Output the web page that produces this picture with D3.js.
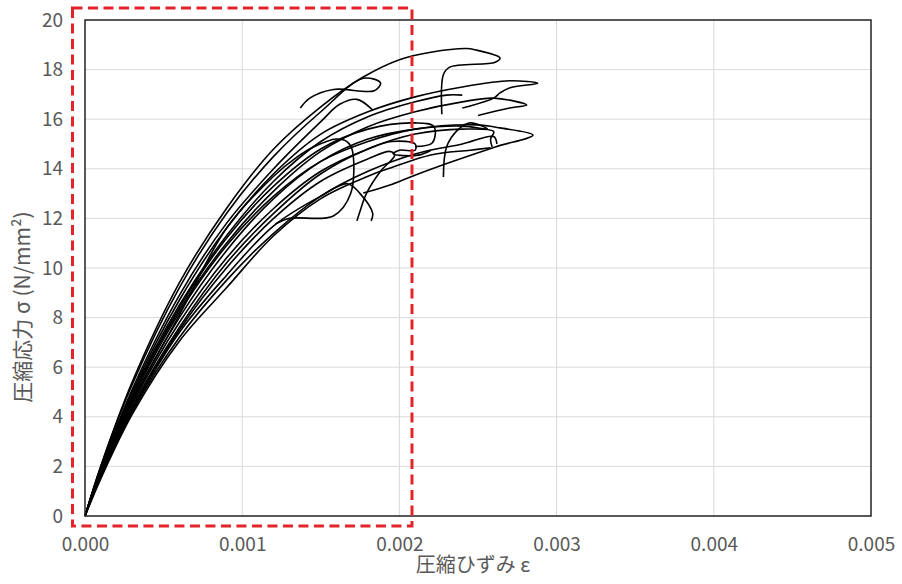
<!DOCTYPE html>
<html><head><meta charset="utf-8">
<script src="https://cdn.jsdelivr.net/npm/d3@7"></script>
<style>
html,body{margin:0;padding:0;background:#fff;}
svg{display:block;}
</style></head>
<body>
<svg id="chart" width="902" height="584"></svg>
<script>
// ---- data ----
const xTicks = [0, 0.001, 0.002, 0.003, 0.004, 0.005];
const xTickLabels = ["0.000", "0.001", "0.002", "0.003", "0.004", "0.005"];
const yTicks = [0, 2, 4, 6, 8, 10, 12, 14, 16, 18, 20];
const yTickLabels = ["0", "2", "4", "6", "8", "10", "12", "14", "16", "18", "20"];
const xTitle = "圧縮ひずみ ε";
const yTitle = "圧縮応力 σ (N/mm²)";
const highlightRange = [0, 0.00208]; // strain range of the dashed box

// each specimen: [strain, stress] pairs
const specimen1 = [[0,0],[0.0001,2.0],[0.0003,5.4],[0.0006,9.4],[0.0009,12.4],[0.0012,14.8],[0.0015,16.5],[0.00177,17.7],[0.002,18.4],[0.0022,18.7],[0.00243,18.85],[0.00248,18.8],[0.00264,18.47],[0.00261,18.3],[0.00232,18.1],[0.00228,17.8],[0.00227,16.2]];
const specimen2 = [[0,0],[0.0001,2.0],[0.0003,5.3],[0.0006,9.2],[0.0009,12.2],[0.0012,14.5],[0.0015,16.3],[0.00177,17.65],[0.00188,17.46],[0.00184,17.15],[0.00158,17.2],[0.00143,16.85],[0.00137,16.45]];
const specimen3 = [[0,0],[0.0001,1.9],[0.0003,5.1],[0.0006,8.9],[0.0009,11.8],[0.0012,14.0],[0.0015,15.9],[0.00162,16.6],[0.00173,16.8],[0.00183,16.37]];
const specimen4 = [[0,0],[0.0001,1.9],[0.0003,5.0],[0.0006,8.7],[0.0009,11.6],[0.0012,13.8],[0.0015,15.4],[0.0018,16.3],[0.0021,16.9],[0.0024,17.3],[0.0027,17.55],[0.00288,17.45],[0.0027,17.26],[0.00264,17.06],[0.0026,16.85],[0.00243,16.5],[0.0024,16.45]];
const specimen5 = [[0,0],[0.0001,1.85],[0.0003,4.9],[0.0006,8.5],[0.0009,11.3],[0.0012,13.5],[0.0015,15.1],[0.0018,16.1],[0.0021,16.7],[0.0023,16.97],[0.0024,16.97]];
const specimen6 = [[0,0],[0.0001,1.8],[0.0003,4.8],[0.0006,8.3],[0.0009,11.0],[0.0012,13.1],[0.0015,14.7],[0.0018,15.7],[0.0021,16.3],[0.0024,16.7],[0.0026,16.85],[0.00281,16.57],[0.0027,16.45],[0.0025,16.15]];
const specimen7 = [[0,0],[0.0001,1.8],[0.0003,4.7],[0.0006,8.2],[0.0009,10.9],[0.0012,12.9],[0.0015,14.3],[0.0018,15.1],[0.0021,15.6],[0.00249,15.77],[0.00264,15.65],[0.00285,15.36],[0.00261,14.88],[0.00231,14.23],[0.00207,13.67],[0.00194,13.35],[0.00177,13.02]];
const specimen8 = [[0,0],[0.0001,1.75],[0.0003,4.6],[0.0006,8.0],[0.0009,10.7],[0.0012,12.8],[0.0015,14.3],[0.0018,15.2],[0.0021,15.6],[0.0024,15.72],[0.00256,15.6],[0.00245,15.85],[0.00237,15.56],[0.0023,14.88],[0.00228,13.67]];
const specimen9 = [[0,0],[0.0001,1.8],[0.0003,4.8],[0.0006,8.4],[0.0009,11.2],[0.0012,13.3],[0.0015,14.8],[0.0018,15.6],[0.0021,15.85],[0.00222,15.7],[0.00221,15.05],[0.0021,14.9]];
const specimen10 = [[0,0],[0.0001,1.7],[0.0003,4.5],[0.0006,7.8],[0.0009,10.4],[0.0012,12.4],[0.0015,13.9],[0.0018,14.8],[0.00195,15.1],[0.0021,15.0],[0.0021,14.75],[0.002,14.75],[0.00196,14.6],[0.00212,14.55],[0.0022,14.75]];
const specimen11 = [[0,0],[0.0001,1.7],[0.0003,4.4],[0.0006,7.6],[0.0009,10.2],[0.0012,12.2],[0.0015,13.8],[0.0018,14.8],[0.0021,15.4],[0.0024,15.6],[0.0026,15.5],[0.00258,15.2],[0.00259,14.88]];
const specimen12 = [[0,0],[0.0001,1.75],[0.0003,4.6],[0.0006,8.1],[0.0009,11.6],[0.0012,13.7],[0.00135,14.48],[0.00145,14.87],[0.0016,15.2],[0.00167,15.08],[0.0017,14.76],[0.00169,13.0],[0.00158,12.1],[0.0013,12.0],[0.00121,11.77]];
const specimen13 = [[0,0],[0.0001,1.65],[0.0003,4.3],[0.0006,7.5],[0.0009,10.0],[0.0012,12.0],[0.0015,13.5],[0.0018,14.4],[0.00194,14.7],[0.00197,14.55],[0.00188,13.9],[0.00179,13.0],[0.00175,12.3],[0.00173,11.9]];
const specimen14 = [[0,0],[0.0001,1.6],[0.0003,4.25],[0.0006,7.4],[0.0009,9.7],[0.0012,11.7],[0.0015,12.9],[0.00167,13.4],[0.00175,13.0],[0.00183,12.2],[0.00182,11.9]];
const specimen15 = [[0,0],[0.0001,1.5],[0.0003,4.1],[0.0006,7.05],[0.0009,9.2],[0.0012,11.3],[0.0015,12.8],[0.0018,13.7],[0.00196,14.07],[0.0022,14.56],[0.00245,14.75],[0.00258,14.85]];
const specimen16 = [[0,0],[0.0001,1.55],[0.0003,4.2],[0.0006,7.2],[0.0009,9.5],[0.0012,11.4],[0.0015,12.9],[0.0018,13.9],[0.0021,14.6],[0.0024,15.0],[0.0026,15.3],[0.00262,15.0]];

const specimens = [specimen1,specimen2,specimen3,specimen4,specimen5,specimen6,specimen7,specimen8,
  specimen9,specimen10,specimen11,specimen12,specimen13,specimen14,specimen15,specimen16];

// ---- drawing ----
const svg = d3.select("#chart");
const m = {left: 85, right: 902 - 871, top: 20, bottom: 584 - 516};
const W = 902, H = 584;
const x = d3.scaleLinear().domain([0, 0.005]).range([m.left, W - m.right]);
const y = d3.scaleLinear().domain([0, 20]).range([H - m.bottom, m.top]);

const font = "'Noto Sans CJK JP','Noto Sans',sans-serif";
const textColor = "#595959";

// gridlines
svg.append("g").selectAll("line.gx").data(xTicks.slice(1, -1)).join("line")
  .attr("x1", d => x(d)).attr("x2", d => x(d))
  .attr("y1", y(0)).attr("y2", y(20))
  .attr("stroke", "#d9d9d9").attr("stroke-width", 1);
svg.append("g").selectAll("line.gy").data(yTicks.slice(1, -1)).join("line")
  .attr("x1", x(0)).attr("x2", x(0.005))
  .attr("y1", d => y(d)).attr("y2", d => y(d))
  .attr("stroke", "#d9d9d9").attr("stroke-width", 1);

// curves
const line = d3.line().x(d => x(d[0])).y(d => y(d[1])).curve(d3.curveCatmullRom.alpha(0.5));
svg.append("g").selectAll("path").data(specimens).join("path")
  .attr("d", line).attr("fill", "none").attr("stroke", "#000")
  .attr("stroke-width", 1.6).attr("stroke-linejoin", "round");

// plot border
svg.append("rect").attr("x", x(0)).attr("y", y(20))
  .attr("width", x(0.005) - x(0)).attr("height", y(0) - y(20))
  .attr("fill", "none").attr("stroke", "#222").attr("stroke-width", 1.5);

// axes (labels only)
const xAxis = d3.axisBottom(x).tickValues(xTicks).tickFormat((d, i) => xTickLabels[i]).tickSize(0).tickPadding(22);
const gx = svg.append("g").attr("transform", `translate(0,${y(0)})`).call(xAxis);
gx.select(".domain").remove();
gx.selectAll("text").attr("font-family", font).attr("font-size", 19).attr("fill", textColor);

const yAxis = d3.axisLeft(y).tickValues(yTicks).tickFormat((d, i) => yTickLabels[i]).tickSize(0).tickPadding(22);
const gy = svg.append("g").attr("transform", `translate(${x(0)},0)`).call(yAxis);
gy.select(".domain").remove();
gy.selectAll("text").attr("font-family", font).attr("font-size", 19).attr("fill", textColor);

// titles
svg.append("text").attr("x", 473).attr("y", 572).attr("text-anchor", "middle")
  .attr("font-family", font).attr("font-size", 20).attr("fill", textColor).text(xTitle);
svg.append("text").attr("transform", "translate(30,307) rotate(-90)").attr("text-anchor", "middle")
  .attr("font-family", font).attr("font-size", 21).attr("fill", textColor).text(yTitle);

// red dashed highlight box
svg.append("rect")
  .attr("x", x(highlightRange[0]) - 12.5).attr("y", y(20) - 12)
  .attr("width", x(highlightRange[1]) - x(highlightRange[0]) + 12.5)
  .attr("height", y(0) - y(20) + 22)
  .attr("fill", "none").attr("stroke", "#e3242b").attr("stroke-width", 3)
  .attr("stroke-dasharray", "10,5.5");
</script>
</body></html>
